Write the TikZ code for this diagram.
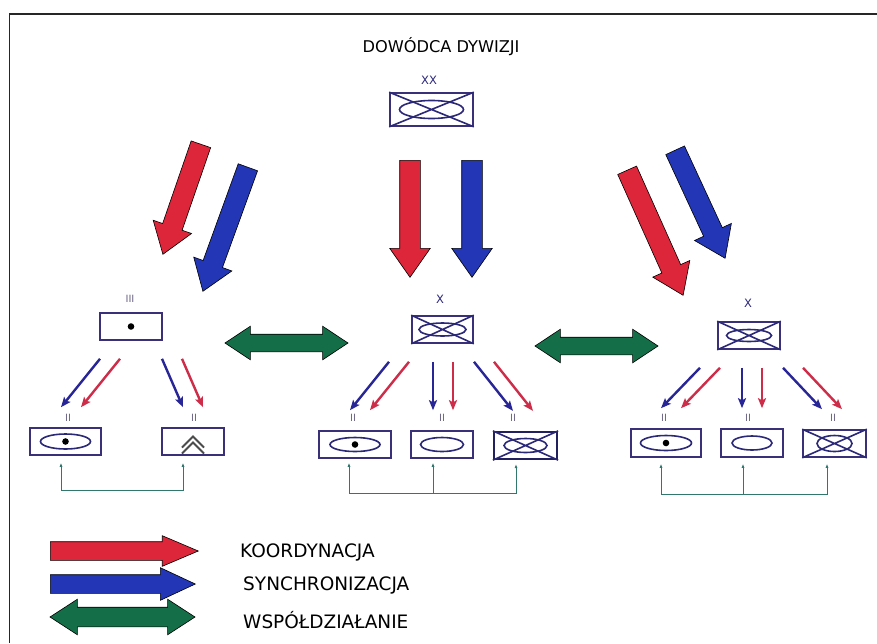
\documentclass[tikz,border=0pt]{standalone}
\usepackage{fontspec}
\setmainfont{DejaVu Sans}
\usepackage{tikz}
\usetikzlibrary{arrows.meta, calc, shapes.arrows}

\definecolor{coordred}{RGB}{222,38,58}
\definecolor{syncblue}{RGB}{34,54,182}
\definecolor{coopgreen}{RGB}{20,110,72}
\definecolor{unitnavy}{RGB}{58,48,122}
\definecolor{symnavy}{RGB}{44,40,120}
\definecolor{thinred}{RGB}{205,45,72}
\definecolor{thinblue}{RGB}{40,38,150}
\definecolor{linkteal}{RGB}{48,120,110}
\definecolor{markgray}{RGB}{110,102,135}

% fat arrow from one coordinate to another: name, from, to, colour
\newcommand{\fatarrow}[4]{%
  \path let \p1=($(#3)-(#2)$), \n1={veclen(\x1,\y1)}, \n2={atan2(\y1,\x1)} in
    (#2) node[bigarrow, fill=#4, minimum height=\n1, rotate=\n2, anchor=tail] (#1) {};}

\begin{document}
\begin{tikzpicture}[x=1pt, y=-1pt,
  unit/.style={draw=unitnavy, line width=1.6pt, inner sep=0pt},
  sym/.style={draw=symnavy, line width=1.6pt},
  bigarrow/.style={single arrow, draw=black, line width=0.6pt, inner xsep=0pt,
    inner ysep=10pt, single arrow head extend=10pt, single arrow tip angle=70},
  bigcoop/.style={double arrow, draw=black, line width=0.6pt, fill=coopgreen,
    inner xsep=0pt, inner ysep=8.5pt, double arrow head extend=8pt,
    double arrow tip angle=67, minimum height=123pt},
  syncline/.style={draw=thinblue, line width=2.4pt, -{Stealth[length=10pt,width=8pt,inset=2pt]}},
  coordline/.style={draw=thinred, line width=2.4pt, -{Stealth[length=10pt,width=8pt,inset=2pt]}},
  linkline/.style={draw=linkteal, line width=0.9pt},
  echelon/.style={font=\fontsize{11.5}{11}\selectfont, text=symnavy, inner sep=0pt},
  bnmark/.style={font=\fontsize{10}{10}\selectfont, text=markgray, inner sep=0pt},
  keytext/.style={font=\fontsize{18.5}{18}\selectfont, anchor=west, inner sep=0pt}]
\fill[white] (0,0) rectangle (877,643);
\useasboundingbox (0,0) rectangle (877,643);
\draw[line width=1.8pt, black!85] (877,14) -- (9.5,14) -- (9.5,643);

% commander
\node[font=\fontsize{16.2}{16}\selectfont, inner sep=0pt] (title) at (441,47) {DOWÓDCA DYWIZJI};
\node[echelon] (divmark) at (429,80) {XX};
\node[unit, minimum width=83pt, minimum height=33pt] (div) at (431.5,109.5) {};

% subordinate formations
\node[bnmark] (regmark) at (130,299) {III};
\node[unit, minimum width=62pt, minimum height=27pt] (reg) at (131,326.5) {};
\node[echelon] (bdeAmark) at (440,299) {X};
\node[unit, minimum width=61pt, minimum height=27pt] (bdeA) at (442.5,329.5) {};
\node[echelon] (bdeBmark) at (748,303) {X};
\node[unit, minimum width=62pt, minimum height=27pt] (bdeB) at (749,335.5) {};

% battalions
\node[unit, minimum width=71pt, minimum height=27pt] (bnA) at (65.5,441.5) {};
\node[unit, minimum width=62pt, minimum height=27pt] (bnB) at (193,441.5) {};
\node[unit, minimum width=72pt, minimum height=27pt] (bnC) at (355,444.5) {};
\node[unit, minimum width=62pt, minimum height=27pt] (bnD) at (442,444.5) {};
\node[unit, draw=symnavy!80!black, line width=2.2pt, minimum width=63pt, minimum height=27pt] (bnE) at (525.5,445.5) {};
\node[unit, minimum width=70pt, minimum height=28pt] (bnF) at (666,443) {};
\node[unit, minimum width=62pt, minimum height=28pt] (bnG) at (752,443) {};
\node[unit, minimum width=63pt, minimum height=27pt] (bnH) at (834.5,443.5) {};
\foreach \n/\x in {A/68,B/194,C/353,D/442,E/513,F/664,G/748,H/833}
  \node[bnmark] (bn\n mark) at (\x,418) {II};

% unit symbols
\foreach \n in {div,bdeA,bdeB,bnE,bnH}
  \draw[sym] (\n.north west) -- (\n.south east) (\n.north east) -- (\n.south west);
\foreach \n/\rx/\ry in {div/32/9, bdeA/23.5/6.5, bdeB/22.5/6, bnA/25/7.5, bnC/25/7,
    bnD/21.5/7, bnE/21.5/7, bnF/25.5/7.5, bnG/20/7, bnH/17.5/8}
  \draw[sym] (\n.center) ellipse [x radius=\rx, y radius=\ry];
\foreach \n in {reg,bnA,bnC,bnF}
  \fill (\n.center) circle [radius=3.3];
\draw[sym, draw=black!70, line width=1.8pt] ($(bnB.center)+(-11,6)$) -- ++(11,-11) -- ++(11,11)
  ($(bnB.center)+(-11,12)$) -- ++(11,-11) -- ++(11,11);

% coordination and synchronisation from the commander
\coordinate (rL0) at (201,144); \coordinate (rL1) at (163,254);
\coordinate (bL0) at (248,167); \coordinate (bL1) at (203,291);
\coordinate (rM0) at (410,160); \coordinate (rM1) at (410,277);
\coordinate (bM0) at (472,160); \coordinate (bM1) at (472,277);
\coordinate (rR0) at (627,170); \coordinate (rR1) at (683,295);
\coordinate (bR0) at (675,150); \coordinate (bR1) at (725,258);
\fatarrow{coordL}{rL0}{rL1}{coordred}
\fatarrow{syncL}{bL0}{bL1}{syncblue}
\fatarrow{coordM}{rM0}{rM1}{coordred}
\fatarrow{syncM}{bM0}{bM1}{syncblue}
\fatarrow{coordR}{rR0}{rR1}{coordred}
\fatarrow{syncR}{bR0}{bR1}{syncblue}

% cooperation between formations
\node[bigcoop] (coopL) at (286.5,343) {};
\node[bigcoop] (coopR) at (596.5,346) {};

% formation to battalion
\foreach \p/\c/\s/\e in {reg/bnA/-31/-4.5, reg/bnB/31/-10, bdeA/bnC/-53.5/-5,
    bdeA/bnD/-9.5/-9, bdeA/bnE/31.5/-12.5, bdeB/bnF/-49/-5, bdeB/bnG/-7/-10,
    bdeB/bnH/34/-12.5}
{
  \draw[syncline] ([shift={(\s,18)}]\p.south) -- ([shift={(\e,-20)}]\c.north);
  \draw[coordline] ([shift={(\s+20,18)}]\p.south) -- ([shift={(\e+20,-20)}]\c.north);
}

% battalion links
\draw[linkline, {Latex[length=4pt,width=3pt]}-{Latex[length=4pt,width=3pt]}]
  ([shift={(-4.5,7)}]bnA.south) -- ++(0,28) -| ([shift={(-10,7)}]bnB.south);
\draw[linkline, {Latex[length=4pt,width=3pt]}-{Latex[length=4pt,width=3pt]}]
  ([shift={(-6,4)}]bnC.south) -- ++(0,31) -| ([shift={(-9.5,4)}]bnE.south);
\draw[linkline, -{Latex[length=4pt,width=3pt]}]
  ([shift={(-9,35)}]bnD.south) -- ([shift={(-9,4)}]bnD.south);
\draw[linkline, {Latex[length=4pt,width=3pt]}-{Latex[length=4pt,width=3pt]}]
  ([shift={(-5,6)}]bnF.south) -- ++(0,31) -| ([shift={(-7.5,6)}]bnH.south);
\draw[linkline, -{Latex[length=4pt,width=3pt]}]
  ([shift={(-9,37)}]bnG.south) -- ([shift={(-9,6)}]bnG.south);

% key
\node[bigarrow, fill=coordred, minimum height=148pt, inner ysep=9pt,
  single arrow head extend=6pt, single arrow tip angle=46, anchor=tail] (keyK) at (50,551) {};
\node[bigarrow, fill=syncblue, minimum height=145pt, inner ysep=9pt,
  single arrow head extend=7pt, single arrow tip angle=50, anchor=tail] (keyS) at (50,584) {};
\node[bigcoop, minimum height=145pt, inner ysep=9.5pt, double arrow head extend=8pt,
  double arrow tip angle=66] (keyW) at (122.5,617) {};
\node[keytext] (txtK) at (240,552) {KOORDYNACJA};
\node[keytext] (txtS) at (243,585) {SYNCHRONIZACJA};
\node[keytext] (txtW) at (243,620) {WSPÓŁDZIAŁANIE};
\end{tikzpicture}
\end{document}
